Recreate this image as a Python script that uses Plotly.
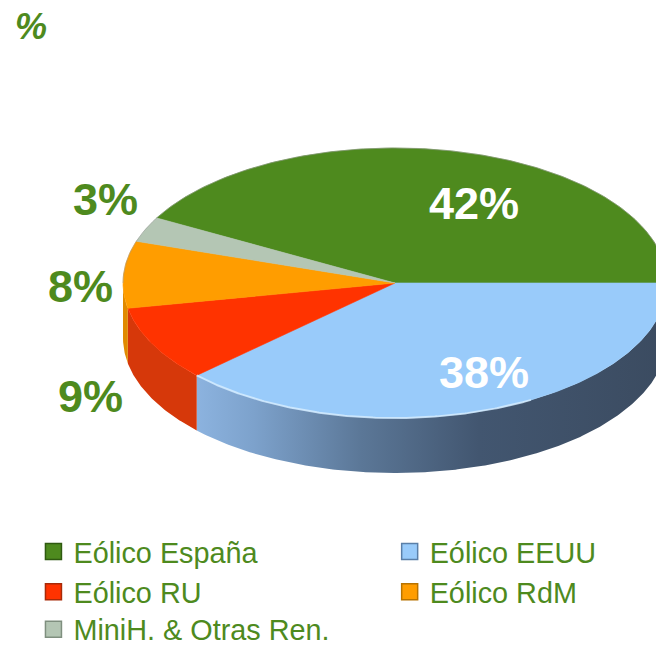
import math
import plotly.graph_objects as go

# ---------------- data ----------------
CATEGORIES = ["Eólico España", "Eólico EEUU", "Eólico RU", "Eólico RdM", "MiniH. & Otras Ren."]
VALUES = [42, 38, 9, 8, 3]
TITLE_TEXT = "%"

# ---------------- style ----------------
TOP_COLORS = ["#4e8a1e", "#99cbfa", "#ff3300", "#ff9d00", "#b4c6b4"]
WALL_COLORS = ["#3f7318", "#6f93bd", "#d6380a", "#e08a00", "#97a897"]
LEGEND_LINE = ["#2f5a10", "#5a7fa8", "#a82a08", "#b87300", "#7f8f7f"]
LEGEND_COLUMN = ["legend", "legend2", "legend", "legend2", "legend3"]
GREEN_TEXT = "#4e8a1e"
LABEL_COLORS = ["white", "white", GREEN_TEXT, GREEN_TEXT, GREEN_TEXT]
# label centre positions (pixel layout)
LABEL_XY = [(474, 203), (484, 372), (90, 396), (80, 286), (105, 199)]

W, H = 656, 648
CX, CY = 395, 283      # pie centre (pixels)
RX, RY = 272, 135      # ellipse radii
DEPTH = 55             # thickness of the side wall
START_ANGLE = 151.2    # first slice starts here, slices run clockwise
FONT = "Arial, Liberation Sans, sans-serif"


def pt(theta, dy=0.0):
    r = math.radians(theta)
    return CX + RX * math.cos(r), CY - RY * math.sin(r) + dy


def arc(a0, a1, dy=0.0, n=None):
    if n is None:
        n = max(8, int(abs(a1 - a0) * 2))
    xs, ys = [], []
    for i in range(n + 1):
        t = a0 + (a1 - a0) * i / n
        x, y = pt(t, dy)
        xs.append(x)
        ys.append(y)
    return xs, ys


total = sum(VALUES)
ranges = []
a = START_ANGLE
for v in VALUES:
    span = 360.0 * v / total
    ranges.append((a, a - span))
    a -= span

fig = go.Figure()

# ---- side walls (front half only: angles 180..360) ----
for i, (a0, a1) in enumerate(ranges):
    hi, lo = a0, a1
    segs = []
    for shift in (-360, 0, 360):
        s_hi, s_lo = hi + shift, lo + shift
        lo_c, hi_c = max(s_lo, 180), min(s_hi, 360)
        if hi_c > lo_c:
            segs.append((lo_c, hi_c))
    for lo_c, hi_c in segs:
        tx, ty = arc(lo_c, hi_c)
        bx, by = arc(hi_c, lo_c, DEPTH)
        xs = tx + bx + [tx[0]]
        ys = ty + by + [ty[0]]
        kw = dict(fillcolor=WALL_COLORS[i])
        if i == 1:
            kw = dict(fillcolor=WALL_COLORS[i],
                      fillgradient=dict(type="horizontal",
                                        colorscale=[[0, "#8cb3df"], [0.12, "#7da2cc"],
                                                    [0.35, "#5b7797"], [0.6, "#425670"],
                                                    [1, "#3b4b60"]]))
        fig.add_trace(go.Scatter(x=xs, y=ys, mode="lines", fill="toself",
                                 line=dict(width=0, color=WALL_COLORS[i]),
                                 hoverinfo="skip", showlegend=False, **kw))

# ---- top faces ----
for i, (a0, a1) in enumerate(ranges):
    ax, ay = arc(a0, a1)
    xs = [CX] + ax + [CX]
    ys = [CY] + ay + [CY]
    fig.add_trace(go.Scatter(x=xs, y=ys, mode="lines", fill="toself",
                             fillcolor=TOP_COLORS[i],
                             line=dict(width=0.6, color=TOP_COLORS[i]),
                             hoverinfo="text", text=f"{CATEGORIES[i]}: {VALUES[i]}%",
                             showlegend=False))

# subtle highlight along the front rim of the blue slice
hx, hy = arc(ranges[1][1] + 360 if ranges[1][1] < 0 else ranges[1][1], 300)
fig.add_trace(go.Scatter(x=hx, y=hy, mode="lines",
                         line=dict(width=2, color="rgba(215,238,255,0.8)"),
                         hoverinfo="skip", showlegend=False))
# soft outline of the back of the pie
ox, oy = arc(0, 180)
fig.add_trace(go.Scatter(x=ox, y=oy, mode="lines",
                         line=dict(width=1, color="rgba(150,150,150,0.5)"),
                         hoverinfo="skip", showlegend=False))

# ---- legend entries (two columns, last row separate) ----
for i, name in enumerate(CATEGORIES):
    fig.add_trace(go.Scatter(x=[None], y=[None], mode="markers", name=name,
                             legend=LEGEND_COLUMN[i],
                             marker=dict(symbol="square", size=16, color=TOP_COLORS[i],
                                         line=dict(color=LEGEND_LINE[i], width=1.5))))

# ---- labels ----
annotations = []
for i, v in enumerate(VALUES):
    x, y = LABEL_XY[i]
    annotations.append(dict(x=x, y=y, xref="x", yref="y", text=f"<b>{v}%</b>",
                            showarrow=False, xanchor="center", yanchor="middle",
                            font=dict(family=FONT, size=45, color=LABEL_COLORS[i])))
annotations.append(dict(x=31, y=26, xref="x", yref="y", text=f"<b><i>{TITLE_TEXT}</i></b>",
                        showarrow=False, xanchor="center", yanchor="middle",
                        font=dict(family=FONT, size=36, color=GREEN_TEXT)))

legend_common = dict(orientation="v", xanchor="left", yanchor="top",
                     traceorder="normal", tracegroupgap=0,
                     font=dict(family=FONT, size=28.8, color=GREEN_TEXT),
                     bgcolor="rgba(0,0,0,0)", itemclick=False, itemdoubleclick=False)

fig.update_layout(
    width=W, height=H,
    margin=dict(l=0, r=0, t=0, b=0, autoexpand=False),
    paper_bgcolor="white", plot_bgcolor="white",
    xaxis=dict(range=[0, W], visible=False, fixedrange=True),
    yaxis=dict(range=[H, 0], visible=False, fixedrange=True),
    annotations=annotations,
    showlegend=True,
    legend=dict(x=0.051, y=0.188, **legend_common),
    legend2=dict(x=0.594, y=0.188, **legend_common),
    legend3=dict(x=0.051, y=0.068, **legend_common),
)

fig.write_html("out.html", config={"displayModeBar": False},
               post_script="document.body.style.margin='0px';")
